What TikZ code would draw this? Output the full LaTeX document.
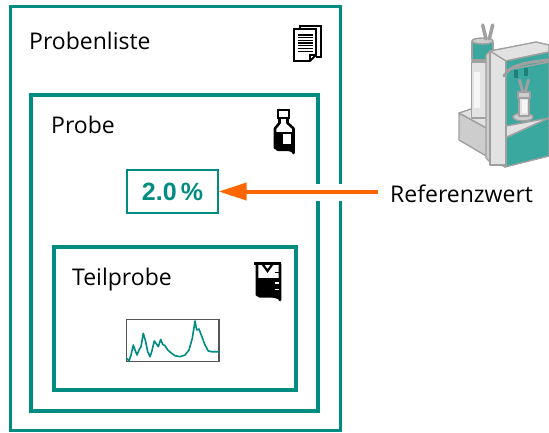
\documentclass[tikz,border=0pt]{standalone}
\usepackage{fontspec}
\setmainfont{Open Sans}
\newfontfamily\valfont{Liberation Sans}
\usetikzlibrary{arrows.meta}
\definecolor{frame}{RGB}{0,140,128}
\definecolor{refarrow}{RGB}{255,102,0}
\definecolor{devteal}{RGB}{58,168,158}
\definecolor{devdark}{RGB}{30,130,120}
\definecolor{devline}{RGB}{160,160,160}
\definecolor{devlight}{RGB}{226,226,226}
\definecolor{devmid}{RGB}{205,205,205}
\definecolor{devwhite}{RGB}{246,246,246}
\definecolor{chromaframe}{RGB}{85,85,85}
\tikzset{
  level/.style={draw=frame},
  label text/.style={font=\fontsize{23}{26}\selectfont, anchor=base west, inner sep=0pt},
  valuebox/.style={draw=frame, line width=1.3pt, minimum width=91pt, minimum height=43pt,
    inner sep=0pt, text=frame, font=\valfont\bfseries\fontsize{25}{28}\selectfont},
  refarrowstyle/.style={draw=refarrow, line width=4pt, -{Triangle[length=28pt,width=17pt]}},
  icon/.style={line width=2.2pt, line join=miter},
  dev/.style={draw=devline, line width=1.4pt, line join=round},
}
\begin{document}
\begin{tikzpicture}[x=1pt, y=-1pt]
\useasboundingbox (0,0) rectangle (549,432);

% nested frames
\draw[level, line width=3pt] (10.7,6.5) rectangle (340,430.5);
\draw[level, line width=4pt] (31,94.5) rectangle (317.5,411);
\draw[level, line width=4pt] (53.5,247) rectangle (295.5,389.5);

% labels
\node[label text] (list) at (29,49.5) {Probenliste};
\node[label text] (sample) at (51,133) {Probe};
\node[label text] (sub) at (72,285.5) {Teilprobe};

% document stack icon
\draw[icon, line width=2pt] (299.5,29) -- (299.5,25.5) -- (320.5,25.5) -- (320.5,57) -- (316,57);
\draw[icon, line width=1.8pt, fill=white] (294,29) -- (316,29) -- (316,55) -- (310,61) -- (294,61) -- cycle;
\draw[line width=1.2pt] (310,61) -- (310,55) -- (316,55);
\foreach \yy in {35,37.7,40.4,43.1,45.8,48.5,51.2}
  \draw[line width=1.3pt] (297.5,\yy) -- (312.5,\yy);

% bottle icon
\draw[icon, line width=2pt] (277.5,109.5) rectangle (288.5,117.5);
\fill (275,132) -- (293.5,132) -- (293.5,148) arc[start angle=0, end angle=90, radius=3] -- (278,151) arc[start angle=90, end angle=180, radius=3] -- cycle;
\fill[white] (282.7,134.3) rectangle (290.7,144.3);
\draw[icon, line width=2.6pt, line join=round] (279.5,118.5) -- (279.5,123) -- (275,128.5) -- (275,148) arc[start angle=180, end angle=270, radius=2.5] -- (291,150.5) arc[start angle=270, end angle=360, radius=2.5] -- (293.5,128.5) -- (287.5,123) -- (287.5,118.5);

% beaker icon
\fill (257,278) -- (280,278) -- (280,295) arc[start angle=0, end angle=90, radius=2.5] -- (259.5,297.5) arc[start angle=90, end angle=180, radius=2.5] -- cycle;
\draw[icon, line width=2.6pt, line join=round] (253.5,263.5) -- (280.5,263.5);
\draw[icon, line width=2.6pt, line join=round] (257,263.5) -- (257,295) arc[start angle=180, end angle=270, radius=2.5] -- (277.5,297.5) arc[start angle=270, end angle=360, radius=2.5] -- (280,263.5);
\draw[icon, line width=2.2pt] (262,263.5) -- (267.5,271) -- (273,263.5);
\draw[line width=1.6pt] (274.5,272.5) -- (280,272.5);
\draw[white, line width=1.6pt] (274.5,283) -- (279,283);
\draw[white, line width=1.6pt] (274.5,289.5) -- (279,289.5);

% value box
\node[valuebox] (val) at (172.5,191.5) {2.0\,\%};

% chromatogram thumbnail
\draw[draw=chromaframe, line width=1.3pt] (126.7,319.5) rectangle (219,361.5);
\draw[frame, line width=1.6pt, line join=round]
  (126.7,358.3) -- (129,361) -- (131,355) -- (133.3,345) -- (135,350) -- (137,355) --
  (139,350) -- (141,346.7) -- (143.3,333.3) -- (145.7,341.7) -- (147.7,351.7) --
  (150,356.7) -- (151.7,351.7) -- (154.3,341) -- (156.7,344.3) -- (158.3,346.7) --
  (160.7,339.3) -- (162.7,344.3) -- (165,345.7) -- (167.7,350) -- (171.7,353.3) --
  (175,355.7) -- (180,356.7) -- (185,355) -- (189,350) -- (192.3,338.3) -- (195,321) --
  (196.7,330) -- (199,329) -- (202.3,337.7) -- (205,345) -- (208.3,351) --
  (211.7,351.7) -- (219,351.7);

% instrument
% base block
\filldraw[dev, fill=devmid] (459,113) -- (459,140) -- (505,167) -- (505,138) -- cycle;
\filldraw[dev, fill=devlight] (459,113) -- (480,106) -- (549,112) -- (549,118) -- (505,138) -- cycle;
\filldraw[dev, fill=devteal] (505,138) -- (505,167) -- (549,156) -- (549,118) -- cycle;
% reagent bottle
\filldraw[dev, fill=devlight] (471.5,62) -- (471.5,118) -- (489,118) -- (489,62) -- cycle;
\fill[devwhite] (474,72) rectangle (480,108);
\filldraw[dev, fill=devteal] (472,42) rectangle (493,60);
\filldraw[dev, fill=devmid] (482.5,41) ellipse[x radius=10.5, y radius=3];
\draw[devline, line width=3.5pt, line cap=round] (482.7,25) -- (486,39);
\draw[devline, line width=3.5pt, line cap=round] (492.7,25) -- (489.3,39);
% tower
\filldraw[dev, fill=devmid] (486,55) -- (490,51) -- (490,162) -- (486,158) -- cycle;
\filldraw[dev, fill=devlight] (490,51) rectangle (506,165);
% sample chamber back wall
\filldraw[dev, fill=devteal] (506,70) -- (549,62) -- (549,118) -- (506,126) -- cycle;
% head
\filldraw[dev, fill=devlight] (490,51) -- (536,42) -- (549,45) -- (549,52) -- (506,61) -- cycle;
\filldraw[dev, fill=devteal] (506,61) -- (549,52) -- (549,62) -- (506,70) -- cycle;
\draw[devline, line width=3pt, line cap=round] (504,76) .. controls (510,64) and (530,62) .. (549,60);
\fill[devdark] (514,70) rectangle (518,78);
\fill[devdark] (524,68) rectangle (528,76);
% titration vessel
\filldraw[dev, fill=devmid] (523,117) ellipse[x radius=10, y radius=4];
\filldraw[dev, fill=devlight] (519,98) rectangle (529,116);
\fill[devwhite] (521.5,100) rectangle (526.5,113);
\filldraw[dev, fill=devmid] (518,92) rectangle (530,98);
\draw[devline, line width=3pt, line cap=round] (519.5,80) -- (522.5,91);
\draw[devline, line width=3pt, line cap=round] (528.5,80) -- (525.5,91);

% reference value and its arrow into the sample box
\node[label text] (ref) at (390,202) {Referenzwert};
\coordinate (refstart) at ([xshift=-12pt]ref.west);
\fill[white] (313,184) rectangle (345,200.5);
\draw[refarrowstyle] (refstart |- val.east) -- (val.east);
\end{tikzpicture}
\end{document}
